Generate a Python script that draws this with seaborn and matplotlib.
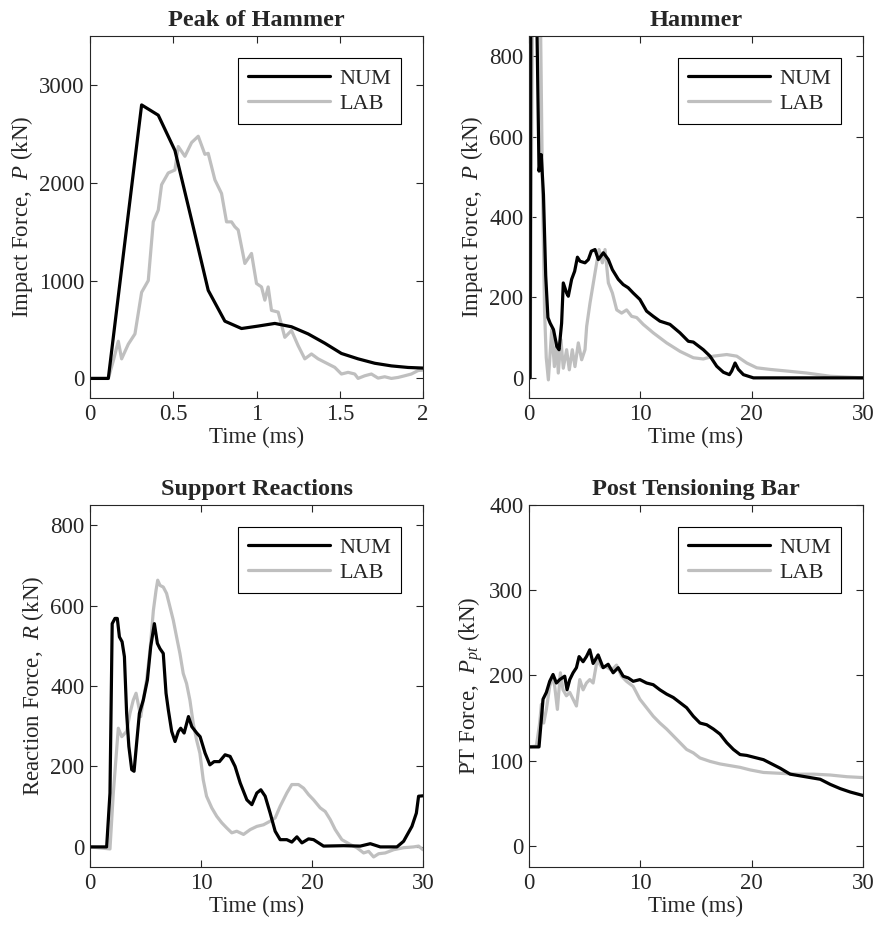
"""Impact test: numerical vs laboratory force histories (2x2 panels)."""

import matplotlib

matplotlib.use("Agg")
import matplotlib.pyplot as plt
import pandas as pd
import seaborn as sns


# ---- Peak of Hammer (0-2 ms) ----
PEAK_NUM_T = [0.0, 0.11, 0.21, 0.31, 0.41, 0.51, 0.61, 0.71, 0.81, 0.91, 1.01, 1.11,
              1.21, 1.31, 1.41, 1.51, 1.61, 1.71, 1.81, 1.91, 2.01]
PEAK_NUM_P = [0, 0, 1400, 2795, 2690, 2330, 1620, 900, 585, 510, 535, 562,
              528, 455, 360, 255, 200, 155, 128, 112, 105]
PEAK_LAB_T = [0.0, 0.11, 0.14, 0.17, 0.19, 0.23, 0.27, 0.31, 0.35, 0.38, 0.41, 0.43,
              0.47, 0.51, 0.53, 0.57, 0.61, 0.65, 0.69, 0.71, 0.75, 0.79, 0.82, 0.85,
              0.87, 0.89, 0.93, 0.97, 1.00, 1.03, 1.05, 1.07, 1.09, 1.13, 1.17, 1.21,
              1.25, 1.29, 1.33, 1.37, 1.41, 1.47, 1.51, 1.55, 1.59, 1.61, 1.65, 1.69,
              1.73, 1.77, 1.81, 1.85, 1.89, 1.93, 1.97, 2.0]
PEAK_LAB_P = [0, 0, 180, 380, 200, 350, 455, 880, 1000, 1600, 1720, 1980,
              2100, 2130, 2370, 2270, 2410, 2475, 2290, 2300, 2030, 1890, 1600, 1600,
              1550, 1517, 1175, 1277, 970, 935, 800, 935, 695, 678, 420, 490,
              335, 200, 250, 200, 165, 113, 45, 62, 45, 0, 27, 45,
              3, 17, 0, 10, 27, 45, 80, 86]

# ---- Hammer (0-30 ms) ----
HAM_NUM_T = [0.0, 0.1, 0.3, 0.5, 0.7, 0.9, 1.1, 1.3, 1.5, 1.7, 1.9, 2.2, 2.5, 2.7,
             2.93, 3.08, 3.38, 3.53, 3.83, 4.1, 4.35, 4.58, 5.03, 5.33, 5.6, 5.93,
             6.23, 6.68, 7.13, 7.49, 8.02, 8.46, 8.91, 9.36, 9.96, 10.56, 11.16,
             11.76, 12.66, 13.56, 14.31, 14.76, 15.66, 16.26, 16.86, 17.46, 18.0,
             18.21, 18.51, 18.81, 19.26, 20.16, 22.0, 25.0, 30.0]
HAM_NUM_P = [0, 0, 2800, 2330, 900, 514, 555, 455, 255, 150, 136, 120, 78, 70,
             136, 236, 211, 203, 245, 265, 300, 290, 286, 294, 315, 319,
             294, 311, 294, 269, 245, 232, 224, 211, 195, 166, 153,
             141, 133, 112, 91, 89, 70, 54, 29, 14, 8,
             17, 37, 21, 8, 0, 0, 0, 0]
HAM_LAB_T = [0.0, 0.1, 0.3, 0.5, 0.65, 0.8, 1.0, 1.2, 1.4, 1.55, 1.74, 2.04, 2.28,
             2.49, 2.63, 2.87, 3.08, 3.38, 3.62, 3.89, 4.13, 4.43, 4.73, 5.03, 5.18,
             5.48, 5.78, 6.08, 6.29, 6.59, 6.83, 7.13, 7.49, 7.88, 8.32, 8.77, 9.22,
             9.67, 10.26, 11.16, 12.36, 13.56, 14.76, 15.66, 16.56, 17.76, 18.66,
             19.56, 20.46, 21.66, 23.16, 24.96, 27.06, 30.0]
HAM_LAB_P = [0, 0, 880, 2130, 2475, 1890, 970, 490, 165, 50, -5, 120, 28,
             87, 12, 95, 24, 70, 20, 70, 28, 87, 45, 70, 128,
             186, 236, 286, 319, 286, 319, 236, 211, 169, 161, 169, 153,
             150, 133, 112, 87, 66, 50, 47, 54, 58, 54,
             37, 25, 21, 17, 12, 4, 0]

# ---- Support Reactions (0-30 ms) ----
SUP_NUM_T = [0.0, 1.5, 1.8, 2.0, 2.25, 2.46, 2.65, 2.89, 3.1, 3.3, 3.5, 3.76, 3.97,
             4.2, 4.45, 4.8, 5.17, 5.47, 5.8, 6.07, 6.3, 6.6, 6.85, 7.06, 7.36, 7.66,
             7.96, 8.17, 8.48, 8.87, 9.17, 9.62, 9.92, 10.37, 10.8, 11.18, 11.66,
             12.17, 12.62, 13.07, 13.53, 14.13, 14.58, 15.03, 15.39, 15.78, 16.23,
             16.68, 17.13, 17.73, 18.18, 18.64, 19.09, 19.69, 20.14, 21.04, 22.84,
             24.35, 25.25, 26.15, 27.65, 28.25, 29.0, 29.4, 29.6, 30.0]
SUP_NUM_R = [0, 0, 134, 555, 568, 568, 522, 510, 473, 332, 250, 192, 188,
             258, 332, 365, 415, 498, 555, 506, 493, 481, 382, 340, 287, 262,
             287, 295, 283, 324, 299, 283, 274, 233, 204, 212, 212,
             229, 225, 200, 159, 117, 105, 134, 142, 126, 84,
             39, 18, 18, 12, 25, 10, 20, 18, 2, 3,
             2, 8, 0, 0, 14, 51, 84, 126, 127]
SUP_LAB_T = [0.0, 1.8, 2.1, 2.55, 2.86, 3.3, 3.6, 3.9, 4.15, 4.36, 4.57, 4.8, 5.1,
             5.41, 5.71, 5.95, 6.1, 6.31, 6.6, 6.9, 7.2, 7.5, 7.8, 8.1, 8.4, 8.7,
             9.0, 9.3, 9.6, 9.9, 10.2, 10.5, 10.97, 11.42, 11.87, 12.32, 12.77,
             13.22, 13.83, 14.43, 15.03, 15.63, 16.23, 16.68, 17.13, 17.73, 18.18,
             18.78, 19.24, 19.69, 20.14, 20.74, 21.19, 21.64, 22.09, 22.69, 23.44,
             24.04, 24.65, 25.1, 25.55, 26.0, 26.6, 27.35, 28.25, 29.15, 29.6, 30.0]
SUP_LAB_R = [0, -5, 134, 295, 274, 287, 332, 365, 382, 353, 324, 365, 415,
             490, 588, 638, 663, 650, 646, 630, 597, 564, 522, 481, 431, 406,
             365, 307, 266, 233, 167, 126, 97, 76, 60, 47, 35,
             39, 31, 43, 51, 55, 64, 72, 101, 134, 155,
             155, 146, 130, 117, 97, 88, 68, 43, 18, 6,
             -2, -15, -11, -25, -17, -15, -7, -2, 0, 2, -7]

# ---- Post Tensioning Bar (0-30 ms) ----
PT_NUM_T = [0.0, 0.9, 1.26, 1.56, 1.86, 2.16, 2.46, 2.76, 3.21, 3.42, 3.66, 3.96,
            4.26, 4.5, 4.86, 5.16, 5.46, 5.76, 6.21, 6.66, 7.11, 7.56, 8.01, 8.46,
            8.91, 9.36, 9.96, 10.56, 11.16, 11.76, 12.36, 12.96, 13.56, 14.16,
            14.76, 15.36, 15.96, 16.56, 17.16, 17.76, 18.36, 18.96, 19.56, 20.46,
            21.06, 21.66, 22.56, 23.46, 24.36, 25.26, 26.16, 27.06, 27.96, 28.86, 30.0]
PT_NUM_P = [116, 116, 172, 180, 193, 201, 191, 195, 199, 183, 195, 203,
            209, 222, 216, 222, 230, 214, 224, 209, 213, 203, 209, 199,
            197, 193, 195, 191, 189, 183, 178, 174, 168, 162,
            152, 144, 142, 137, 131, 121, 113, 107, 106, 103,
            101, 97, 91, 84, 82, 80, 78, 72, 67, 63, 59]
PT_LAB_T = [0.0, 0.66, 0.96, 1.11, 1.32, 1.56, 1.86, 2.1, 2.31, 2.55, 2.82, 3.06,
            3.36, 3.66, 3.96, 4.26, 4.56, 4.86, 5.16, 5.46, 5.76, 6.12, 6.51, 6.96,
            7.41, 7.86, 8.31, 8.76, 9.36, 9.96, 10.56, 11.16, 11.76, 12.36, 12.96,
            13.56, 14.16, 14.76, 15.36, 16.26, 17.16, 18.06, 18.96, 19.86, 21.06,
            22.56, 24.06, 25.56, 27.06, 28.56, 30.0]
PT_LAB_P = [116, 117, 144, 166, 144, 160, 187, 199, 187, 160, 203, 183,
            176, 180, 172, 164, 195, 183, 191, 195, 191, 218, 210, 210,
            206, 212, 199, 193, 187, 172, 162, 152, 144, 137, 129,
            121, 113, 109, 103, 99, 96, 94, 92, 89, 86,
            85, 84, 84, 83, 81, 80]

PANEL_TITLES = ["Peak of Hammer", "Hammer", "Support Reactions", "Post Tensioning Bar"]
Y_LABELS = ["Impact Force,  $P$ (kN)", "Impact Force,  $P$ (kN)",
            "Reaction Force,  $R$ (kN)", "PT Force,  $P_{pt}$ (kN)"]
X_LABEL = "Time (ms)"
PEAK_XTICKS = [0, 0.5, 1, 1.5, 2]
PEAK_XTICK_LABELS = ["0", "0.5", "1", "1.5", "2"]
LONG_XTICKS = [0, 10, 20, 30]
SERIES_NAMES = ["NUM", "LAB"]

sns.set_theme(style="ticks")
plt.rcParams["font.family"] = ["Liberation Serif", "DejaVu Serif"]
plt.rcParams["mathtext.fontset"] = "custom"
plt.rcParams["mathtext.rm"] = "Liberation Serif"
plt.rcParams["mathtext.it"] = "Liberation Serif:italic"

INK = "#262626"
COLORS = {"NUM": "#000000", "LAB": "#bfbfbf"}

panels = [
    (PEAK_NUM_T, PEAK_NUM_P, PEAK_LAB_T, PEAK_LAB_P, (0, 2), (-200, 3500), [0, 1000, 2000, 3000]),
    (HAM_NUM_T, HAM_NUM_P, HAM_LAB_T, HAM_LAB_P, (0, 30), (-50, 850), [0, 200, 400, 600, 800]),
    (SUP_NUM_T, SUP_NUM_R, SUP_LAB_T, SUP_LAB_R, (0, 30), (-50, 850), [0, 200, 400, 600, 800]),
    (PT_NUM_T, PT_NUM_P, PT_LAB_T, PT_LAB_P, (0, 30), (-25, 400), [0, 100, 200, 300, 400]),
]
positions = [
    [0.1025, 0.5748, 0.3793, 0.3868],
    [0.6025, 0.5748, 0.3804, 0.3868],
    [0.1025, 0.0737, 0.3793, 0.3868],
    [0.6025, 0.0737, 0.3804, 0.3868],
]

fig = plt.figure(figsize=(8.78, 9.36), dpi=100)
for i, (nt, nv, lt, lv, xlim, ylim, yticks) in enumerate(panels):
    ax = fig.add_axes(positions[i])
    df = pd.concat([
        pd.DataFrame({"t": nt, "v": nv, "series": "NUM"}),
        pd.DataFrame({"t": lt, "v": lv, "series": "LAB"}),
    ])
    # LAB drawn first so NUM sits on top; legend order fixed below
    for name in ["LAB", "NUM"]:
        sub = df[df["series"] == name]
        sns.lineplot(data=sub, x="t", y="v", color=COLORS[name], linewidth=2.3,
                     ax=ax, label=name, sort=False, estimator=None)
    ax.set_xlim(*xlim)
    ax.set_ylim(*ylim)
    if i == 0:
        ax.set_xticks(PEAK_XTICKS, PEAK_XTICK_LABELS)
    else:
        ax.set_xticks(LONG_XTICKS)
    ax.set_yticks(yticks)
    ax.tick_params(direction="in", top=True, right=True, length=5, width=0.8,
                   labelsize=16.5, colors=INK, labelcolor=INK, pad=4)
    for sp in ax.spines.values():
        sp.set_color(INK)
        sp.set_linewidth(0.8)
    ax.set_title(PANEL_TITLES[i], fontsize=17.5, fontweight="bold", pad=7)
    ax.set_xlabel(X_LABEL, fontsize=16.5, color=INK, labelpad=2)
    ax.set_ylabel(Y_LABELS[i], fontsize=16.5, color=INK, labelpad=3)
    handles, labels = ax.get_legend_handles_labels()
    order = [labels.index(n) for n in SERIES_NAMES]
    leg = ax.legend([handles[k] for k in order], SERIES_NAMES, loc="upper right",
                    fontsize=16, frameon=True, fancybox=False, framealpha=1,
                    edgecolor="#000000", handlelength=3.7, handletextpad=0.4,
                    borderaxespad=1.0, borderpad=0.45, labelspacing=0.2)
    leg.get_frame().set_linewidth(0.8)

fig.savefig("out.png", dpi=100)
